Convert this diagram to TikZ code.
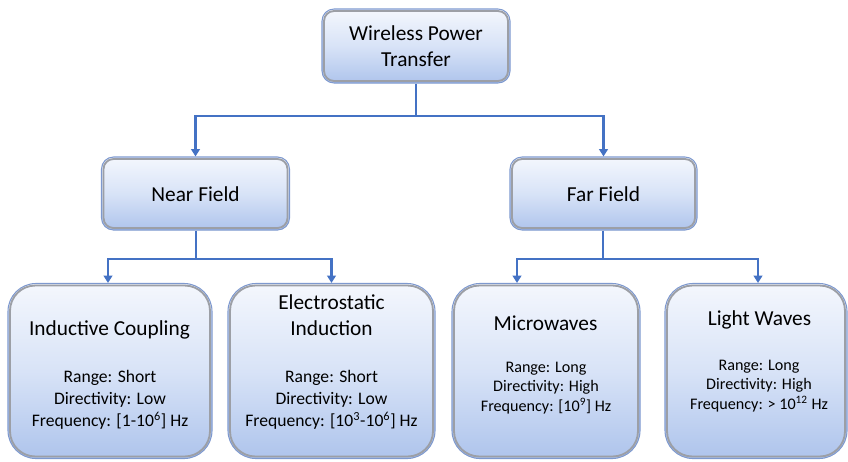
\documentclass[tikz,border=0pt]{standalone}
\usepackage{fontspec}
\setmainfont{Carlito}
\usetikzlibrary{arrows.meta}
\definecolor{conn}{HTML}{4472C4}
\definecolor{outerc}{HTML}{7E99CF}
\definecolor{ringc}{HTML}{9C9FA6}
\definecolor{topc}{HTML}{F4F7FD}
\definecolor{midc}{HTML}{D8E3F7}
\definecolor{botc}{HTML}{AEC4EC}
\begin{document}
\begin{tikzpicture}[x=0.75pt,y=-0.75pt,
  boxbase/.style={draw=outerc, line width=0.8pt, top color=topc, bottom color=botc, middle color=midc, inner sep=0pt},
  smallbox/.style={boxbase, rounded corners=9pt},
  bigbox/.style={boxbase, rounded corners=21pt},
  ring/.style={draw=ringc, line width=1.4pt},
  ttl/.style={anchor=base, align=center, inner sep=0pt, font=\fontsize{16}{19.5}\selectfont},
  detl/.style={anchor=base, align=center, inner sep=0pt, font=\fontsize{13.2}{16.2}\selectfont},
  detr/.style={anchor=base, align=center, inner sep=0pt, font=\fontsize{12.1}{14.4}\selectfont},
  link/.style={draw=conn, line width=1.9pt},
  arr/.style={link, -{Triangle[width=6.5pt,length=5.5pt]}}
]
\useasboundingbox (0,0) rectangle (848,461);

% boxes
\node[smallbox, minimum width=141pt, minimum height=55.5pt] (wpt) at (416,46) {};
\node[smallbox, minimum width=141pt, minimum height=54.75pt] (near) at (195.5,193.5) {};
\node[smallbox, minimum width=140.25pt, minimum height=54.75pt] (far) at (603.5,193.5) {};
\node[bigbox, minimum width=153pt, minimum height=131.25pt] (ind) at (110,371) {};
\node[bigbox, minimum width=155.25pt, minimum height=131.25pt] (es) at (331.5,371) {};
\node[bigbox, minimum width=141pt, minimum height=131.25pt] (mw) at (546,371) {};
\node[bigbox, minimum width=136.5pt, minimum height=131.25pt] (lw) at (756,371) {};

% inner bevel rings
\foreach \n/\r in {wpt/7.5pt, near/7.5pt, far/7.5pt, ind/19pt, es/19pt, mw/19pt, lw/19pt}
  \draw[ring, rounded corners=\r] ([shift={(1.9pt,-1.9pt)}]\n.north west) rectangle ([shift={(-1.9pt,1.9pt)}]\n.south east);

% texts (base anchor = baseline of the last line)
\node[ttl] (wptT) at (416,66.5) {Wireless Power\\Transfer};
\node[ttl] (nearT) at (195.5,201.5) {Near Field};
\node[ttl] (farT) at (603.5,201.5) {Far Field};
\node[ttl] (indT) at (109.5,335) {Inductive Coupling};
\node[detl] (indD) at (110,426) {Range: Short\\Directivity: Low\\Frequency: [1-10\textsuperscript{6}] Hz};
\node[ttl] (esT) at (331.5,335) {Electrostatic\\Induction};
\node[detl] (esD) at (331.5,426) {Range: Short\\Directivity: Low\\Frequency: [10\textsuperscript{3}-10\textsuperscript{6}] Hz};
\node[ttl] (mwT) at (545.5,330) {Microwaves};
\node[detr] (mwD) at (546,411) {Range: Long\\Directivity: High\\Frequency: [10\textsuperscript{9}] Hz};
\node[ttl] (lwT) at (759.5,325) {Light Waves};
\node[detr] (lwD) at (759,409) {Range: Long\\Directivity: High\\Frequency: > 10\textsuperscript{12} Hz};

% connectors
\coordinate (j0) at (416,116);
\coordinate (j1) at (196,259);
\coordinate (j2) at (603,259);
\draw[link] (wpt.south) -- (j0);
\draw[arr] (j0) -| (near.north);
\draw[arr] (j0) -| (far.north);
\draw[link] (near.south -| j1) -- (j1);
\draw[arr] (j1) -| ([xshift=-1.5pt]ind.north);
\draw[arr] (j1) -| (es.north);
\draw[link] (far.south -| j2) -- (j2);
\draw[arr] (j2) -| ([xshift=-21.75pt]mw.north);
\draw[arr] (j2) -| ([xshift=1.5pt]lw.north);
\end{tikzpicture}
\end{document}
